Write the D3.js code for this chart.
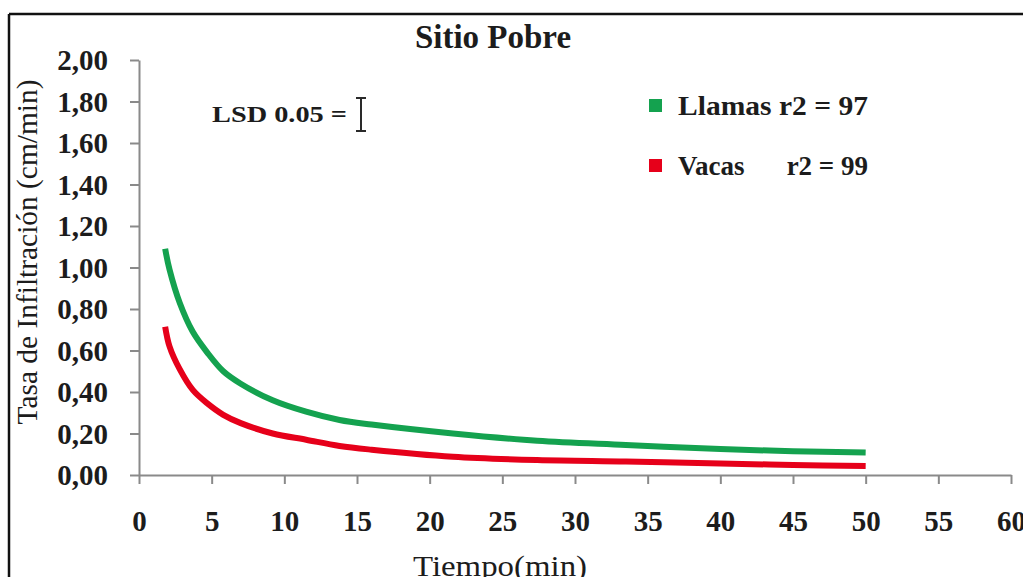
<!DOCTYPE html>
<html>
<head>
<meta charset="utf-8">
<script src="https://cdn.jsdelivr.net/npm/d3@7"></script>
<style>
  html, body { margin: 0; padding: 0; background: #fff; }
  svg { display: block; }
  text { font-family: "Liberation Serif", "Times New Roman", serif; fill: #1c1c1c; }
</style>
</head>
<body>
<svg id="chart" width="1023" height="577"></svg>
<script>
// Infiltration rate over time (minutes) for the two grazing treatments
const tiempo = [1.8, 2.1, 2.8, 3.7, 4.7, 5.8, 7, 9.2, 11.5, 13.8, 16, 21.6, 27.4, 33.5, 40, 45, 50];
const llamas = [1.09, 0.99, 0.83, 0.69, 0.59, 0.50, 0.44, 0.36, 0.305, 0.265, 0.243, 0.20, 0.165, 0.145, 0.125, 0.115, 0.108];
const vacas  = [0.715, 0.62, 0.51, 0.41, 0.345, 0.29, 0.25, 0.20, 0.17, 0.14, 0.122, 0.088, 0.072, 0.065, 0.056, 0.048, 0.043];

const xTicks = [0, 5, 10, 15, 20, 25, 30, 35, 40, 45, 50, 55, 60];
const yTicks = [0, 0.2, 0.4, 0.6, 0.8, 1.0, 1.2, 1.4, 1.6, 1.8, 2.0];

const seriesNames = ["Llamas", "Vacas"];
const seriesR2 = ["r2 = 97", "r2 = 99"];
const colors = ["#14a24f", "#e6001a"];

const svg = d3.select("#chart");
const axisColor = "#8a8a8a";

// outer frame (top and left edges visible)
svg.append("line").attr("x1", 9).attr("x2", 1023).attr("y1", 14).attr("y2", 14)
  .attr("stroke", "#111").attr("stroke-width", 2.5);
svg.append("line").attr("x1", 9).attr("x2", 9).attr("y1", 14).attr("y2", 577)
  .attr("stroke", "#111").attr("stroke-width", 2.5);

const x = d3.scaleLinear().domain([0, 60]).range([139, 1011]);
const y = d3.scaleLinear().domain([0, 2]).range([475, 60]);

const fmt = v => d3.format(".2f")(v).replace(".", ",");

// y axis
const yAxis = svg.append("g").attr("transform", `translate(${x(0)},0)`)
  .call(d3.axisLeft(y).tickValues(yTicks).tickSize(9).tickSizeOuter(0).tickPadding(22).tickFormat(fmt));
yAxis.select(".domain").attr("stroke", axisColor).attr("stroke-width", 2);
yAxis.selectAll(".tick line").attr("stroke", axisColor).attr("stroke-width", 2);
yAxis.selectAll(".tick text")
  .attr("font-family", "Liberation Serif, Times New Roman, serif")
  .attr("font-size", 29).attr("font-weight", "bold").attr("fill", "#1c1c1c")
  .attr("dy", "0.34em");

// x axis
const xAxis = svg.append("g").attr("transform", `translate(0,${y(0)})`)
  .call(d3.axisBottom(x).tickValues(xTicks).tickSize(9).tickSizeOuter(0).tickPadding(26).tickFormat(d3.format("d")));
xAxis.select(".domain").attr("stroke", axisColor).attr("stroke-width", 2);
xAxis.selectAll(".tick line").attr("stroke", axisColor).attr("stroke-width", 2);
xAxis.selectAll(".tick text")
  .attr("font-family", "Liberation Serif, Times New Roman, serif")
  .attr("font-size", 29).attr("font-weight", "bold").attr("fill", "#1c1c1c");

// curves
const line = d3.line()
  .x((d, i) => x(tiempo[i]))
  .y(d => y(d))
  .curve(d3.curveCatmullRom.alpha(0.5));

[llamas, vacas].forEach((vals, k) => {
  svg.append("path")
    .datum(vals)
    .attr("d", line)
    .attr("fill", "none")
    .attr("stroke", colors[k])
    .attr("stroke-width", 6)
    .attr("stroke-linejoin", "round");
});

// title
svg.append("text").attr("x", 493).attr("y", 48)
  .attr("text-anchor", "middle").attr("font-size", 33).attr("font-weight", "bold")
  .text("Sitio Pobre");

// axis titles
svg.append("text")
  .attr("transform", "translate(37,252) rotate(-90)")
  .attr("text-anchor", "middle").attr("font-size", 29)
  .attr("textLength", 345).attr("lengthAdjust", "spacingAndGlyphs")
  .text("Tasa de Infiltración (cm/min)");

svg.append("text").attr("x", 500).attr("y", 576)
  .attr("text-anchor", "middle").attr("font-size", 30)
  .attr("textLength", 174).attr("lengthAdjust", "spacingAndGlyphs")
  .text("Tiempo(min)");

// LSD marker
svg.append("text").attr("x", 212).attr("y", 122)
  .attr("font-size", 23).attr("font-weight", "bold")
  .attr("textLength", 135).attr("lengthAdjust", "spacingAndGlyphs")
  .text("LSD 0.05 =");
const lsd = svg.append("g").attr("stroke", "#2a2a2a").attr("stroke-width", 2);
lsd.append("line").attr("x1", 361).attr("x2", 361).attr("y1", 98).attr("y2", 131);
lsd.append("line").attr("x1", 356).attr("x2", 366).attr("y1", 98).attr("y2", 98);
lsd.append("line").attr("x1", 356).attr("x2", 366).attr("y1", 131).attr("y2", 131);

// legend
const legendY = [115, 175];
seriesNames.forEach((name, k) => {
  svg.append("rect").attr("x", 649).attr("y", legendY[k] - 16).attr("width", 13).attr("height", 13)
    .attr("fill", colors[k]);
  if (k === 0) {
    svg.append("text").attr("x", 678).attr("y", legendY[k])
      .attr("font-size", 27).attr("font-weight", "bold")
      .attr("textLength", 190).attr("lengthAdjust", "spacingAndGlyphs")
      .text(name + " " + seriesR2[k]);
  } else {
    svg.append("text").attr("x", 678).attr("y", legendY[k])
      .attr("font-size", 27).attr("font-weight", "bold")
      .text(name);
    svg.append("text").attr("x", 868).attr("y", legendY[k])
      .attr("text-anchor", "end").attr("font-size", 27).attr("font-weight", "bold")
      .text(seriesR2[k]);
  }
});
</script>
</body>
</html>
